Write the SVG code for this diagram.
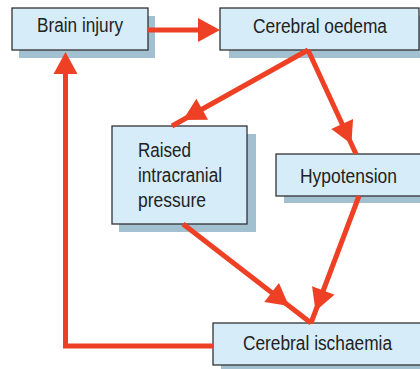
<svg xmlns="http://www.w3.org/2000/svg" xmlns:xlink="http://www.w3.org/1999/xlink" width="420" height="369" viewBox="0 0 420 369">
  <style>
    .shadow { fill: #a2c0d0; }
    .box { fill: #d6ecf9; stroke: #333333; stroke-width: 1.3; }
    .label { font-family: "Liberation Sans", Arial, sans-serif; font-size: 20px; fill: #222222; }
    .wire { fill: none; stroke: #ee4024; stroke-width: 5; stroke-linecap: butt; stroke-linejoin: miter; }
    .head { fill: #ee4024; }
  </style>
  <defs>
    <!-- arrowhead with its tip at the origin, pointing along +x -->
    <path id="ah" d="M0,0 L-22,-12 L-22,12 Z"/>
  </defs>

  <g id="node-brain-injury">
    <rect class="shadow" x="19" y="16" width="136" height="42"/>
    <rect class="box" x="12" y="8" width="136" height="42"/>
    <text class="label" x="37" y="32" textLength="86" lengthAdjust="spacingAndGlyphs">Brain injury</text>
  </g>

  <g id="node-cerebral-oedema">
    <rect class="shadow" x="229" y="16" width="191" height="42"/>
    <rect class="box" x="220" y="8" width="199" height="42"/>
    <text class="label" x="253" y="33" textLength="134" lengthAdjust="spacingAndGlyphs">Cerebral oedema</text>
  </g>

  <g id="node-raised-icp">
    <rect class="shadow" x="119" y="134" width="137" height="98"/>
    <rect class="box" x="112" y="126" width="135" height="98"/>
    <text class="label" x="138" y="157" textLength="53" lengthAdjust="spacingAndGlyphs">Raised</text>
    <text class="label" x="138" y="182" textLength="84" lengthAdjust="spacingAndGlyphs">intracranial</text>
    <text class="label" x="138" y="207" textLength="68" lengthAdjust="spacingAndGlyphs">pressure</text>
  </g>

  <g id="node-hypotension">
    <rect class="shadow" x="284" y="161" width="136" height="42"/>
    <rect class="box" x="276" y="154" width="145" height="42"/>
    <text class="label" x="300" y="183" textLength="97" lengthAdjust="spacingAndGlyphs">Hypotension</text>
  </g>

  <g id="node-cerebral-ischaemia">
    <rect class="shadow" x="221" y="331" width="199" height="38"/>
    <rect class="box" x="213" y="323" width="208" height="42"/>
    <text class="label" x="243" y="350" textLength="149" lengthAdjust="spacingAndGlyphs">Cerebral ischaemia</text>
  </g>

  <g id="connectors">
    <!-- brain injury -> cerebral oedema -->
    <line class="wire" x1="148" y1="30" x2="200" y2="30"/>
    <use class="head" xlink:href="#ah" href="#ah" transform="translate(220,30)"/>

    <!-- cerebral oedema -> raised intracranial pressure -->
    <line class="wire" x1="308" y1="50" x2="172" y2="126"/>
    <use class="head" xlink:href="#ah" href="#ah" transform="translate(183,120) rotate(150.8)"/>

    <!-- cerebral oedema -> hypotension -->
    <line class="wire" x1="308" y1="50" x2="356" y2="154"/>
    <use class="head" xlink:href="#ah" href="#ah" transform="translate(351.4,144) rotate(65.2)"/>

    <!-- raised intracranial pressure -> cerebral ischaemia -->
    <line class="wire" x1="183" y1="224" x2="311" y2="323"/>
    <use class="head" xlink:href="#ah" href="#ah" transform="translate(289,306) rotate(37.7)"/>

    <!-- hypotension -> cerebral ischaemia -->
    <line class="wire" x1="359" y1="196" x2="311" y2="323"/>
    <use class="head" xlink:href="#ah" href="#ah" transform="translate(315.5,311) rotate(110.7)"/>

    <!-- cerebral ischaemia -> brain injury (feedback loop) -->
    <polyline class="wire" points="213,346 65.5,346 65.5,72"/>
    <use class="head" xlink:href="#ah" href="#ah" transform="translate(65.5,52) rotate(-90)"/>
  </g>
</svg>
